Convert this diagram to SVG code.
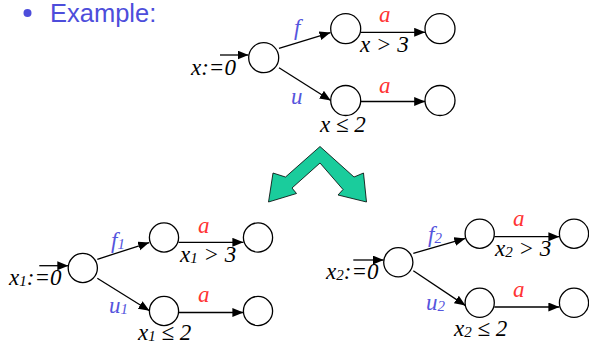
<svg xmlns="http://www.w3.org/2000/svg" width="589" height="344" viewBox="0 0 589 344">
<style>
.n{fill:#fff;stroke:#000;stroke-width:1.3}
.e{stroke:#000;stroke-width:1.3;fill:none}
.t,.b,.r{font-family:"Liberation Serif","Times New Roman","DejaVu Serif",serif;font-style:italic;font-size:23px}
.t{fill:#000}
.b{fill:#5555dd}
.r{fill:#ff3333}
.s{font-size:15px}
.h{font-family:"Liberation Sans",Arial,sans-serif;font-size:25.5px;fill:#4d4ddb}
</style>
<defs>
<marker id="ah" markerUnits="userSpaceOnUse" markerWidth="12" markerHeight="10" refX="11" refY="4.5" orient="auto">
<path d="M0,0 L11,4.5 L0,9 z" fill="#000"/>
</marker>
</defs>

<g id="title">
<circle cx="27.5" cy="13" r="4" fill="#4d4ddb"/>
<text class="h" x="50" y="22">Example:</text>
</g>

<g id="connectors">
<line class="e" x1="220" y1="55" x2="248.5" y2="55" marker-end="url(#ah)"/>
<line class="e" x1="279" y1="48.3" x2="330.5" y2="32.6" marker-end="url(#ah)"/>
<line class="e" x1="279" y1="67.7" x2="330.8" y2="100.5" marker-end="url(#ah)"/>
<line class="e" x1="360.7" y1="32.3" x2="425.2" y2="32.3" marker-end="url(#ah)"/>
<line class="e" x1="360.7" y1="101.5" x2="425.2" y2="101.5" marker-end="url(#ah)"/>

<line class="e" x1="39.3" y1="265.7" x2="68.3" y2="265.7" marker-end="url(#ah)"/>
<line class="e" x1="97.3" y1="259.3" x2="149.2" y2="242.6" marker-end="url(#ah)"/>
<line class="e" x1="97.3" y1="278.3" x2="149.5" y2="310.8" marker-end="url(#ah)"/>
<line class="e" x1="178.6" y1="242.3" x2="243.4" y2="242.3" marker-end="url(#ah)"/>
<line class="e" x1="178.6" y1="312.5" x2="243.4" y2="312.5" marker-end="url(#ah)"/>

<line class="e" x1="353.3" y1="260" x2="383.7" y2="260" marker-end="url(#ah)"/>
<line class="e" x1="413.3" y1="253.3" x2="465.3" y2="238.4" marker-end="url(#ah)"/>
<line class="e" x1="413.3" y1="270.7" x2="465.5" y2="305.6" marker-end="url(#ah)"/>
<line class="e" x1="494.3" y1="236.7" x2="559.4" y2="236.7" marker-end="url(#ah)"/>
<line class="e" x1="494.3" y1="307" x2="559.4" y2="307" marker-end="url(#ah)"/>
</g>

<g id="top-init"><circle class="n" cx="263.7" cy="57.7" r="15"/><text class="t" x="191" y="75">x:=0</text></g>
<g id="top-f"><circle class="n" cx="345.7" cy="28.7" r="15"/><text class="b" x="294" y="35">f</text></g>
<g id="top-f2"><circle class="n" cx="440" cy="28.7" r="15"/></g>
<g id="top-u"><circle class="n" cx="345.7" cy="100.5" r="15"/><text class="b" x="291" y="104">u</text></g>
<g id="top-u2"><circle class="n" cx="440" cy="100.5" r="15"/></g>
<g id="top-labels">
<text class="r" x="379" y="22">a</text>
<text class="t" x="360" y="52">x &gt; 3</text>
<text class="r" x="379" y="93">a</text>
<text class="t" x="320" y="132">x ≤ 2</text>
</g>

<g id="green-arrow">
<polygon points="320,146.5 354,177 363.5,173 366.5,202 338,195 343,189.5 320,163 292,188 296.5,193.5 268.5,202 273,173 285.5,177" fill="#1acc9c" stroke="#000" stroke-width="0.8"/>
</g>

<g id="l-init"><circle class="n" cx="82.8" cy="268" r="14.6"/><text class="t" x="9" y="285">x<tspan class="s" dy="1">1</tspan><tspan dy="-1">:=0</tspan></text></g>
<g id="l-f"><circle class="n" cx="164" cy="237.5" r="14.6"/><text class="b" x="111" y="248">f<tspan class="s" dy="1">1</tspan></text></g>
<g id="l-f2"><circle class="n" cx="258" cy="237.5" r="14.6"/></g>
<g id="l-u"><circle class="n" cx="164" cy="311" r="14.6"/><text class="b" x="109" y="313">u<tspan class="s" dy="1">1</tspan></text></g>
<g id="l-u2"><circle class="n" cx="258" cy="311" r="14.6"/></g>
<g id="l-labels">
<text class="r" x="198" y="233">a</text>
<text class="t" x="180" y="262">x<tspan class="s" dy="1">1</tspan><tspan dy="-1"> &gt; 3</tspan></text>
<text class="r" x="198" y="302">a</text>
<text class="t" x="138" y="340">x<tspan class="s" dy="1">1</tspan><tspan dy="-1"> ≤ 2</tspan></text>
</g>

<g id="r-init"><circle class="n" cx="398.3" cy="262.3" r="14.6"/><text class="t" x="326" y="279">x<tspan class="s" dy="1">2</tspan><tspan dy="-1">:=0</tspan></text></g>
<g id="r-f"><circle class="n" cx="479.7" cy="233.7" r="14.6"/><text class="b" x="428" y="242">f<tspan class="s" dy="1">2</tspan></text></g>
<g id="r-f2"><circle class="n" cx="574" cy="233.7" r="14.6"/></g>
<g id="r-u"><circle class="n" cx="479.7" cy="302.8" r="14.6"/><text class="b" x="426" y="310">u<tspan class="s" dy="1">2</tspan></text></g>
<g id="r-u2"><circle class="n" cx="574" cy="302.8" r="14.6"/></g>
<g id="r-labels">
<text class="r" x="513" y="226">a</text>
<text class="t" x="495" y="256">x<tspan class="s" dy="1">2</tspan><tspan dy="-1"> &gt; 3</tspan></text>
<text class="r" x="513" y="297">a</text>
<text class="t" x="454" y="336">x<tspan class="s" dy="1">2</tspan><tspan dy="-1"> ≤ 2</tspan></text>
</g>
</svg>
